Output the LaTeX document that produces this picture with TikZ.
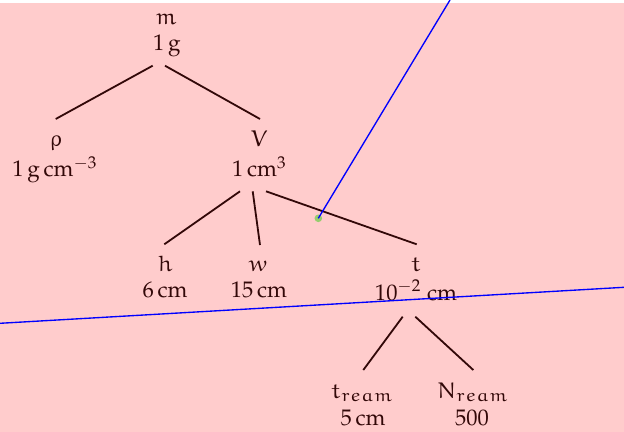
\documentclass[tikz,border=0pt]{standalone}
\usepackage[T1]{fontenc}
\usepackage{mathpazo}
\DeclareMathAlphabet{\matheu}{U}{eur}{m}{n}
\DeclareSymbolFont{eul}{U}{eur}{m}{n}
\DeclareMathSymbol{\eurho}{\mathord}{eul}{"1A}
\definecolor{bgpink}{RGB}{255,204,204}
\definecolor{ink}{RGB}{50,8,8}
\definecolor{dotgreen}{RGB}{150,205,110}
\begin{document}
\begin{tikzpicture}[x=0.444pt,y=-0.444pt,
  lbl/.style={anchor=base,inner sep=0pt,text=ink},
  edge/.style={draw=ink,line width=0.8pt},
  guide/.style={draw=blue,line width=0.6pt}]
\useasboundingbox (0,0) rectangle (624,432);
\fill[bgpink] (0,3) rectangle (624,432);
% labels
\node[lbl] (m) at (166,25) {$\matheu{m}$};
\node[lbl] (mv) at (167,50.5) {1\,g};
\node[lbl] (rho) at (56,146.7) {$\eurho$};
\node[lbl] (rhov) at (55,177) {1\,g\,cm$^{-3}$};
\node[lbl] (V) at (259,146.7) {$\matheu{V}$};
\node[lbl] (Vv) at (259.5,177) {1\,cm$^{3}$};
\node[lbl] (h) at (165,271.7) {$\matheu{h}$};
\node[lbl] (hv) at (165,298) {6\,cm};
\node[lbl] (w) at (258,271.7) {$\matheu{w}$};
\node[lbl] (wv) at (259,298) {15\,cm};
\node[lbl] (t) at (416,271.7) {$\matheu{t}$};
\node[lbl] (tv) at (416,300) {10$^{-2}$ cm};
\node[lbl] (tr) at (362.5,398) {$\matheu{t}_{\matheu{ream}}$};
\node[lbl] (trv) at (363,425) {5\,cm};
\node[lbl] (nr) at (473,398) {$\matheu{N}_{\matheu{ream}}$};
\node[lbl] (nrv) at (472,425) {500};
% edge end points
\coordinate (m-a) at (152.7,65.7);
\coordinate (m-b) at (165,65.7);
\coordinate (rho-n) at (55.7,119);
\coordinate (V-n) at (260,119);
\coordinate (V-a) at (240,191.3);
\coordinate (V-b) at (252.7,191.3);
\coordinate (V-c) at (266,191.3);
\coordinate (h-n) at (164.3,244.3);
\coordinate (w-n) at (260,245);
\coordinate (t-n) at (416.7,244.3);
\coordinate (t-a) at (402.7,316.7);
\coordinate (t-b) at (415.3,316.7);
\coordinate (tr-n) at (363.3,370);
\coordinate (nr-n) at (473.3,370);
\draw[edge] (m-a) -- (rho-n);
\draw[edge] (m-b) -- (V-n);
\draw[edge] (V-a) -- (h-n);
\draw[edge] (V-b) -- (w-n);
\draw[edge] (V-c) -- (t-n);
\draw[edge] (t-a) -- (tr-n);
\draw[edge] (t-b) -- (nr-n);
% guides
\coordinate (p) at (318.3,218.3);
\coordinate (ptop) at (450,0);
\coordinate (lleft) at (0,323.3);
\coordinate (lright) at (624,287.3);
\fill[dotgreen] (p) circle (3.8);
\draw[guide] (p) -- (ptop);
\draw[guide] (lleft) -- (lright);
\end{tikzpicture}
\end{document}
